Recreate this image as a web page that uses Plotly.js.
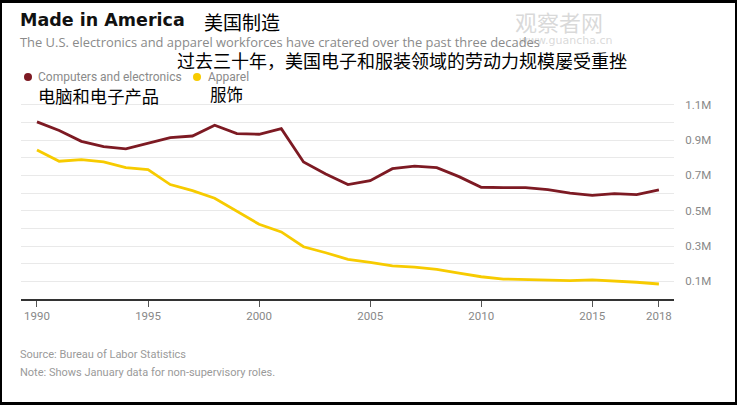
<!DOCTYPE html>
<html>
<head>
<meta charset="utf-8">
<script src="https://cdn.plot.ly/plotly-3.0.1.min.js"></script>
<style>
html,body{margin:0;padding:0;background:#fff;}
#wrap{position:relative;width:737px;height:405px;}
#chart{position:absolute;left:0;top:0;width:737px;height:405px;}
#frame{position:absolute;left:0;top:0;width:737px;height:405px;box-sizing:border-box;border-style:solid;border-color:#000;border-width:3px 2px 3px 2px;pointer-events:none;}
</style>
</head>
<body>
<div id="wrap"><div id="chart"></div><div id="frame"></div></div>
<script>
const years = [1990,1991,1992,1993,1994,1995,1996,1997,1998,1999,2000,2001,2002,2003,2004,2005,2006,2007,2008,2009,2010,2011,2012,2013,2014,2015,2016,2017,2018];
const computers = [1.003,0.954,0.893,0.863,0.850,0.882,0.914,0.923,0.984,0.937,0.933,0.965,0.776,0.708,0.648,0.670,0.738,0.752,0.744,0.693,0.633,0.631,0.631,0.619,0.599,0.587,0.597,0.591,0.618];
const apparel = [0.844,0.780,0.789,0.776,0.744,0.733,0.648,0.614,0.571,0.497,0.423,0.380,0.296,0.262,0.225,0.208,0.187,0.180,0.168,0.146,0.126,0.113,0.110,0.108,0.104,0.108,0.102,0.095,0.085];
const xTicks = [1990,1995,2000,2005,2010,2015,2018];
const yGrid = [0.1,0.2,0.3,0.4,0.5,0.6,0.7,0.8,0.9,1.0,1.1];
const yLabels = ["0.1M","","0.3M","","0.5M","","0.7M","","0.9M","","1.1M"];
const seriesNames = ["Computers and electronics","Apparel"];
const seriesNamesZh = ["电脑和电子产品","服饰"];
const colors = ["#7d1a23","#f7cb00"];

const traces = [
  {x: years, y: computers, type:'scatter', mode:'lines', name: seriesNames[0], line:{color:colors[0], width:2.8}},
  {x: years, y: apparel, type:'scatter', mode:'lines', name: seriesNames[1], line:{color:colors[1], width:2.8}}
];

const gray = "#8a8a8a";
const ann = [];
function txt(x,y,t,size,color,family,extra){
  ann.push(Object.assign({xref:'paper',yref:'paper',x:x,y:y,text:t,showarrow:false,xanchor:'left',yanchor:'middle',borderpad:0,font:{size:size,color:color,family:family}},extra||{}));
}
const L=21,R=674,T=103,B=299;
const px = v => (v-L)/(R-L);
const py = v => (B-v)/(B-T);

txt(px(514), py(21), "观察者网", 22, "rgba(205,205,205,0.75)", "Noto Sans CJK SC");
txt(px(518), py(40), "www.guancha.cn", 11, "rgba(205,205,205,0.75)", "DejaVu Sans");
txt(px(19), py(20), "<b>Made in America</b>", 17.5, "#111", "DejaVu Sans");
txt(px(203), py(21), "美国制造", 19, "#000", "Noto Sans CJK SC");
txt(px(19), py(41.5), "The U.S. electronics and apparel workforces have cratered over the past three decades", 12.9, gray, "Open Sans");
txt(px(176), py(59.5), "过去三十年，美国电子和服装领域的劳动力规模屡受重挫", 18, "#000", "Noto Sans CJK SC");
txt(px(37), py(77), seriesNames[0], 12, gray, "Roboto");
txt(px(207), py(77), seriesNames[1], 12, gray, "Roboto");
txt(px(37), py(96), seriesNamesZh[0], 17.3, "#000", "Noto Sans CJK SC");
txt(px(209), py(94), seriesNamesZh[1], 16.5, "#000", "Noto Sans CJK SC");
txt(px(19), py(354), "Source: Bureau of Labor Statistics", 11, "#9a9a9a", "Roboto");
txt(px(19), py(372), "Note: Shows January data for non-supervisory roles.", 11, "#9a9a9a", "Roboto");

const shapes = [
  {type:'circle', xref:'paper', yref:'paper', x0:px(24), x1:px(32), y0:py(73), y1:py(81), fillcolor:colors[0], line:{width:0}},
  {type:'circle', xref:'paper', yref:'paper', x0:px(193), x1:px(201), y0:py(73), y1:py(81), fillcolor:colors[1], line:{width:0}}
];

const layout = {
  width:737, height:405,
  margin:{l:L, r:737-R, t:T, b:405-B, pad:0},
  paper_bgcolor:'#fff', plot_bgcolor:'#fff',
  showlegend:false,
  font:{family:'Roboto', color:gray, size:11},
  xaxis:{range:[1989.28,2018.68], tickvals:xTicks, ticktext:xTicks.map(String), showgrid:false, zeroline:false,
         showline:true, linecolor:'#333', linewidth:1.5, ticks:'outside', ticklen:6, tickcolor:'#555', tickwidth:1,
         tickfont:{size:11.5, color:'#888', family:'Roboto'}, fixedrange:true},
  yaxis:{range:[0,1.11], side:'right', tickvals:yGrid, ticktext:yLabels, showgrid:true, gridcolor:'#e9e9e9', gridwidth:1,
         zeroline:false, showline:false, ticks:'outside', ticklen:8, tickcolor:'rgba(0,0,0,0)',
         tickfont:{size:11.5, color:'#888', family:'Roboto'}, fixedrange:true},
  annotations: ann,
  shapes: shapes
};
Plotly.newPlot('chart', traces, layout, {displayModeBar:false, staticPlot:true});
</script>
</body>
</html>
